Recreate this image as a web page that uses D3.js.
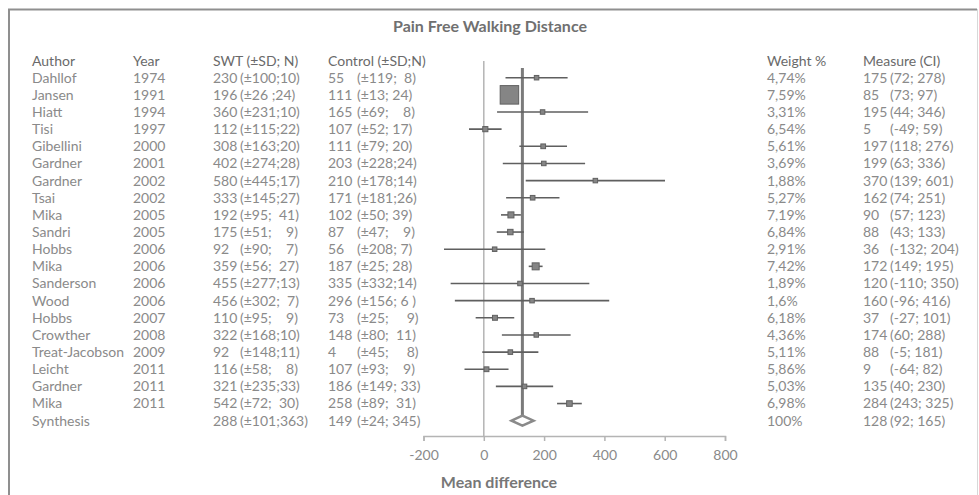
<!DOCTYPE html>
<html lang="en">
<head>
    <meta charset="UTF-8">
    <title>Pain Free Walking Distance</title>
    <script src="https://d3js.org/d3.v7.min.js"></script>
    <style type="text/css">
        body {
            margin: 0;
            background: #ffffff;
        }
        svg {
            display: block;
            font-family: Lato, "Open Sans", sans-serif;
        }
        .cell {
            font-size: 14px;
            fill: #8a8a8a;
        }
        .head {
            font-size: 14px;
            fill: #6a6a6a;
        }
        .axis text {
            font-size: 14px;
            fill: #8a8a8a;
            font-family: Lato, "Open Sans", sans-serif;
        }
        .axis path, .axis line {
            stroke: #b4b4b4;
            stroke-width: 1.5;
        }
    </style>
</head>
<body>
    <div id="chart"></div>

    <script type="text/javascript">
        // Study table
        const authors = ['Dahllof', 'Jansen', 'Hiatt', 'Tisi', 'Gibellini', 'Gardner', 'Gardner', 'Tsai',
            'Mika', 'Sandri', 'Hobbs', 'Mika', 'Sanderson', 'Wood', 'Hobbs', 'Crowther',
            'Treat-Jacobson', 'Leicht', 'Gardner', 'Mika', 'Synthesis'];
        const years = ['1974', '1991', '1994', '1997', '2000', '2001', '2002', '2002', '2005', '2005',
            '2006', '2006', '2006', '2006', '2007', '2008', '2009', '2011', '2011', '2011', ''];
        const swt = ['230 (±100;10)', '196 (±26 ;24)', '360 (±231;10)', '112 (±115;22)', '308 (±163;20)',
            '402 (±274;28)', '580 (±445;17)', '333 (±145;27)', '192 (±95;  41)', '175 (±51;    9)',
            '92 (±90;    7)', '359 (±56;  27)', '455 (±277;13)', '456 (±302;  7)', '110 (±95;    9)',
            '322 (±168;10)', '92 (±148;11)', '116 (±58;    8)', '321 (±235;33)', '542 (±72;  30)',
            '288 (±101;363)'];
        const control = ['55 (±119;  8)', '111 (±13; 24)', '165 (±69;    8)', '107 (±52; 17)', '111 (±79; 20)',
            '203 (±228;24)', '210 (±178;14)', '171 (±181;26)', '102 (±50; 39)', '87 (±47;    9)',
            '56 (±208; 7)', '187 (±25; 28)', '335 (±332;14)', '296 (±156; 6 )', '73 (±25;     9)',
            '148 (±80;  11)', '4 (±45;     8)', '107 (±93;    9)', '186 (±149; 33)', '258 (±89;  31)',
            '149 (±24; 345)'];
        const weights = ['4,74%', '7,59%', '3,31%', '6,54%', '5,61%', '3,69%', '1,88%', '5,27%', '7,19%',
            '6,84%', '2,91%', '7,42%', '1,89%', '1,6%', '6,18%', '4,36%', '5,11%', '5,86%', '5,03%',
            '6,98%', '100%'];
        const measure = [175, 85, 195, 5, 197, 199, 370, 162, 90, 88, 36, 172, 120, 160, 37, 174, 88, 9, 135, 284, 128];
        const ciLow = [72, 73, 44, -49, 118, 63, 139, 74, 57, 43, -132, 149, -110, -96, -27, 60, -5, -64, 40, 243, 92];
        const ciHigh = [278, 97, 346, 59, 276, 336, 601, 251, 123, 133, 204, 195, 350, 416, 101, 288, 181, 82, 230, 325, 165];
        const headers = ['Author', 'Year', 'SWT (±SD; N)', 'Control (±SD;N)', 'Weight %', 'Measure (CI)'];
        const xTicks = [-200, 0, 200, 400, 600, 800];

        const W = 979, H = 495;
        const rows = d3.range(authors.length);
        const studies = rows.slice(0, rows.length - 1);
        const pooled = rows.length - 1;

        const svg = d3.select('#chart')
            .append('svg')
            .attr('width', W)
            .attr('height', H);

        // Frame
        svg.append('path')
            .attr('d', `M9,${H + 5}V9.5H977`)
            .attr('fill', 'none')
            .attr('stroke', '#8f8f8f')
            .attr('stroke-width', 2);
        svg.append('line')
            .attr('x1', 977.5).attr('x2', 977.5)
            .attr('y1', 9).attr('y2', H)
            .attr('stroke', '#d8d8d8');

        svg.append('text')
            .attr('x', 490)
            .attr('y', 26)
            .attr('dy', '0.35em')
            .attr('text-anchor', 'middle')
            .style('font-size', '16px')
            .style('font-weight', 700)
            .style('fill', '#707070')
            .text('Pain Free Walking Distance');

        // Scales
        const x = d3.scaleLinear()
            .domain([-200, 800])
            .range([423.5, 725]);

        const y = d3.scalePoint()
            .domain(rows)
            .range([77.7, 77.7 + 17.15 * pooled]);

        const headY = 61;

        // Square side grows with precision of the estimate
        const side = d3.scaleLinear()
            .domain([1 / 206, 1 / 46, 1 / 24])
            .range([4.5, 7, 18.5])
            .clamp(true);

        // Table columns
        const colX = {author: 32, year: 133, swt: 213, control: 328, weight: 767, measure: 863};

        svg.selectAll('.head')
            .data(headers)
            .enter()
            .append('text')
            .attr('class', 'head')
            .attr('x', (d, i) => Object.values(colX)[i])
            .attr('y', headY)
            .attr('dy', '0.35em')
            .text(d => d);

        function textCol(values, xPos) {
            svg.append('g')
                .selectAll('text')
                .data(values)
                .enter()
                .append('text')
                .attr('class', 'cell')
                .attr('x', xPos)
                .attr('y', (d, i) => y(i))
                .attr('dy', '0.35em')
                .text(d => d);
        }

        // Mean left aligned, bracket part on its own tab stop
        function splitCol(values, xPos, tab) {
            const g = svg.append('g');
            values.forEach((s, i) => {
                const cut = s.indexOf('(');
                g.append('text')
                    .attr('class', 'cell')
                    .attr('x', xPos)
                    .attr('y', y(i))
                    .attr('dy', '0.35em')
                    .text(s.slice(0, cut).trim());
                g.append('text')
                    .attr('class', 'cell')
                    .attr('x', xPos + tab)
                    .attr('y', y(i))
                    .attr('dy', '0.35em')
                    .attr('xml:space', 'preserve')
                    .style('white-space', 'pre')
                    .text(s.slice(cut));
            });
        }

        textCol(authors, colX.author);
        textCol(years, colX.year);
        splitCol(swt, colX.swt, 27);
        splitCol(control, colX.control, 29);
        textCol(weights, colX.weight);
        splitCol(rows.map(i => `${measure[i]} (${ciLow[i]}; ${ciHigh[i]})`), colX.measure, 27);

        // Axis
        const axisY = 436;
        svg.append('g')
            .attr('class', 'axis')
            .attr('transform', `translate(0,${axisY})`)
            .call(d3.axisBottom(x).tickValues(xTicks).tickSize(5).tickSizeOuter(5).tickPadding(9).tickFormat(d => String(d)));

        svg.append('text')
            .attr('x', 499)
            .attr('y', 482)
            .attr('dy', '0.35em')
            .attr('text-anchor', 'middle')
            .style('font-size', '16px')
            .style('font-weight', 700)
            .style('fill', '#777777')
            .text('Mean difference');

        // Line of no effect
        svg.append('line')
            .attr('x1', x(0)).attr('x2', x(0))
            .attr('y1', headY).attr('y2', axisY)
            .attr('stroke', '#b4b4b4')
            .attr('stroke-width', 1.5);

        // Pooled estimate line
        svg.append('line')
            .attr('x1', x(measure[pooled])).attr('x2', x(measure[pooled]))
            .attr('y1', 68).attr('y2', y(pooled))
            .attr('stroke', '#7b7b7b')
            .attr('stroke-width', 3);

        // Confidence intervals
        svg.append('g')
            .selectAll('line')
            .data(studies)
            .enter()
            .append('line')
            .attr('x1', i => x(ciLow[i]))
            .attr('x2', i => x(ciHigh[i]))
            .attr('y1', i => y(i))
            .attr('y2', i => y(i))
            .attr('stroke', '#5f5f5f')
            .attr('stroke-width', 1.6);

        // Point estimates
        svg.append('g')
            .selectAll('rect')
            .data(studies)
            .enter()
            .append('rect')
            .each(function(i) {
                const s = side(1 / (ciHigh[i] - ciLow[i]));
                d3.select(this)
                    .attr('x', x(measure[i]) - s / 2)
                    .attr('y', y(i) - s / 2)
                    .attr('width', s)
                    .attr('height', s);
            })
            .attr('fill', '#858585')
            .attr('stroke', '#606060')
            .attr('stroke-width', 1);

        // Synthesis diamond
        const py = y(pooled);
        svg.append('path')
            .attr('d', `M${x(ciLow[pooled])},${py}L${x(measure[pooled])},${py - 5}L${x(ciHigh[pooled])},${py}L${x(measure[pooled])},${py + 5}Z`)
            .attr('fill', '#ffffff')
            .attr('stroke', '#8a8a8a')
            .attr('stroke-width', 2.5);
    </script>
</body>
</html>
